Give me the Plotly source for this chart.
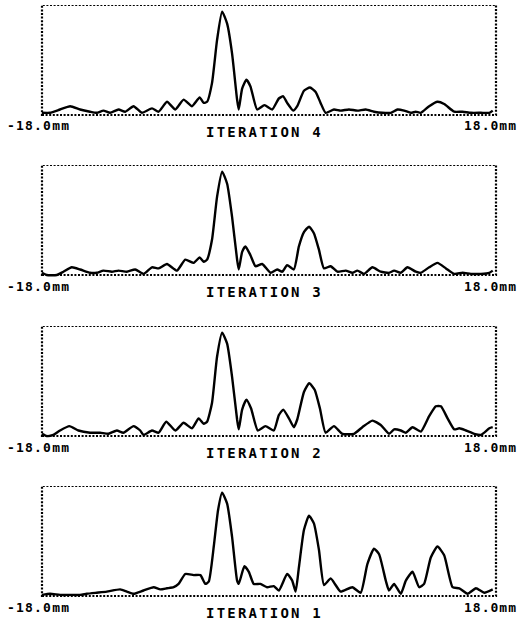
import plotly.graph_objects as go

# ---- data (x in mm, normalized amplitude) ----
titles = ["ITERATION 4", "ITERATION 3", "ITERATION 2", "ITERATION 1"]
left_label = "-18.0mm"
right_label = "18.0mm"

x_it4 = [-18.0, -17.36, -16.57, -15.77, -14.98, -14.19, -13.66, -13.13, -12.60, -11.93,
         -11.40, -10.74, -10.08, -9.28, -8.75, -8.09, -7.43, -6.77, -6.11, -5.50,
         -5.18, -4.91, -4.52, -4.12, -3.72, -3.32, -2.93, -2.53, -2.40, -2.13,
         -1.79, -1.47, -0.94, -0.36, 0.25, 0.78, 1.13, 1.44, 1.92, 2.24,
         2.77, 3.25, 3.70, 4.09, 4.49, 5.15, 5.68, 6.34, 7.01, 7.67,
         8.33, 8.99, 9.66, 10.19, 10.72, 11.25, 11.64, 12.04, 12.70, 13.36,
         13.89, 14.69, 15.35, 16.01, 16.81, 17.47, 17.74]
y_it4 = [0.02, 0.02, 0.05, 0.08, 0.05, 0.03, 0.02, 0.04, 0.02, 0.05,
         0.03, 0.08, 0.02, 0.06, 0.03, 0.12, 0.05, 0.14, 0.08, 0.16,
         0.11, 0.12, 0.29, 0.68, 0.94, 0.83, 0.56, 0.14, 0.05, 0.24,
         0.32, 0.26, 0.05, 0.09, 0.05, 0.15, 0.17, 0.11, 0.04, 0.08,
         0.22, 0.25, 0.21, 0.11, 0.02, 0.05, 0.04, 0.05, 0.04, 0.05,
         0.03, 0.02, 0.02, 0.05, 0.04, 0.02, 0.03, 0.02, 0.08, 0.12,
         0.10, 0.03, 0.03, 0.02, 0.02, 0.02, 0.04]

x_it3 = [-18.0, -17.63, -16.83, -16.30, -15.64, -14.98, -14.19, -13.66, -13.13, -12.46,
         -11.93, -11.27, -10.61, -9.95, -9.28, -8.75, -8.09, -7.30, -6.64, -5.97,
         -5.50, -5.18, -4.91, -4.52, -4.12, -3.72, -3.32, -2.93, -2.53, -2.40,
         -2.13, -1.87, -1.47, -1.07, -0.54, 0.12, 0.65, 1.05, 1.44, 1.97,
         2.37, 2.77, 3.17, 3.56, 3.96, 4.36, 4.89, 5.42, 6.08, 6.61,
         7.01, 7.54, 8.20, 8.86, 9.52, 9.92, 10.45, 10.98, 11.64, 12.04,
         12.70, 13.36, 14.03, 14.69, 15.35, 16.01, 16.81, 17.47, 17.74]
y_it3 = [0.02, 0.00, 0.00, 0.03, 0.07, 0.05, 0.02, 0.02, 0.04, 0.03,
         0.04, 0.03, 0.05, 0.01, 0.07, 0.06, 0.10, 0.04, 0.14, 0.11,
         0.16, 0.12, 0.14, 0.32, 0.71, 0.94, 0.83, 0.53, 0.14, 0.05,
         0.21, 0.26, 0.18, 0.08, 0.10, 0.02, 0.05, 0.03, 0.09, 0.05,
         0.26, 0.39, 0.44, 0.38, 0.23, 0.06, 0.08, 0.03, 0.04, 0.02,
         0.04, 0.01, 0.07, 0.03, 0.02, 0.04, 0.02, 0.07, 0.03, 0.02,
         0.07, 0.11, 0.06, 0.01, 0.02, 0.01, 0.01, 0.02, 0.04]

x_it2 = [-18.0, -17.63, -17.10, -16.57, -15.83, -15.11, -14.19, -13.39, -12.73, -12.07,
         -11.54, -10.74, -10.21, -9.95, -9.28, -8.75, -8.15, -7.43, -6.77, -6.11,
         -5.58, -5.18, -4.91, -4.52, -4.12, -3.72, -3.32, -2.93, -2.53, -2.40,
         -2.13, -1.79, -1.42, -0.89, -0.28, 0.38, 0.78, 1.13, 1.58, 1.97,
         2.24, 2.77, 3.19, 3.62, 4.04, 4.49, 5.15, 5.81, 6.74, 7.40,
         8.20, 8.86, 9.52, 9.92, 10.45, 10.85, 11.38, 12.04, 12.70, 13.23,
         13.63, 14.16, 14.69, 15.09, 15.62, 16.28, 16.81, 17.47, 17.74]
y_it2 = [0.02, 0.00, 0.01, 0.05, 0.09, 0.05, 0.03, 0.03, 0.02, 0.05,
         0.03, 0.09, 0.05, 0.01, 0.05, 0.03, 0.13, 0.05, 0.12, 0.07,
         0.16, 0.11, 0.13, 0.30, 0.72, 0.94, 0.84, 0.54, 0.15, 0.06,
         0.24, 0.33, 0.25, 0.05, 0.09, 0.05, 0.19, 0.24, 0.16, 0.08,
         0.15, 0.40, 0.48, 0.42, 0.25, 0.03, 0.09, 0.02, 0.02, 0.08,
         0.14, 0.10, 0.02, 0.06, 0.05, 0.03, 0.08, 0.04, 0.18, 0.27,
         0.27, 0.16, 0.06, 0.07, 0.05, 0.02, 0.01, 0.07, 0.08]

x_it1 = [-18.0, -17.36, -16.57, -15.77, -14.98, -14.45, -13.66, -12.86, -11.80, -11.27,
         -10.74, -9.95, -9.15, -8.62, -8.09, -7.56, -7.17, -6.64, -5.97, -5.44,
         -5.05, -4.78, -4.38, -4.04, -3.72, -3.32, -2.93, -2.53, -2.40, -1.95,
         -1.60, -1.21, -0.68, -0.15, 0.38, 0.78, 1.44, 1.84, 2.11, 2.37,
         2.77, 3.17, 3.56, 3.96, 4.36, 4.89, 5.28, 5.68, 6.61, 7.27,
         7.80, 8.33, 8.73, 9.26, 9.52, 9.92, 10.45, 10.85, 11.38, 11.91,
         12.30, 12.83, 13.36, 13.89, 14.56, 15.09, 15.75, 16.41, 17.07, 17.74]
y_it1 = [0.01, 0.02, 0.01, 0.01, 0.01, 0.02, 0.03, 0.04, 0.06, 0.04,
         0.02, 0.05, 0.08, 0.06, 0.07, 0.08, 0.11, 0.20, 0.19, 0.19,
         0.11, 0.13, 0.45, 0.78, 0.94, 0.84, 0.54, 0.14, 0.11, 0.27,
         0.22, 0.11, 0.11, 0.08, 0.09, 0.05, 0.20, 0.14, 0.04, 0.26,
         0.60, 0.73, 0.66, 0.42, 0.10, 0.16, 0.10, 0.04, 0.08, 0.03,
         0.29, 0.43, 0.38, 0.14, 0.05, 0.11, 0.02, 0.14, 0.22, 0.08,
         0.11, 0.35, 0.45, 0.37, 0.08, 0.07, 0.02, 0.07, 0.03, 0.06]

series = [(x_it4, y_it4), (x_it3, y_it3), (x_it2, y_it2), (x_it1, y_it1)]

# ---- layout geometry (pixels) ----
W, H = 519, 624
BOX_L, BOX_R = 42, 496
BOX_TOPS = [5, 165, 326, 486]
BOX_H = 110
X_MIN, X_MAX = -18.0, 18.0
XPAD = 0.3
YLO, YHI = -0.05, 1.0

px_per_mm = (BOX_R - BOX_L) / (X_MAX - X_MIN)
dom_x0 = (BOX_L - XPAD * px_per_mm) / W
dom_x1 = (BOX_R + XPAD * px_per_mm) / W

fig = go.Figure()
mono = "DejaVu Sans Mono"

for i, (xs, ys) in enumerate(series):
    n = i + 1
    xa = "x" if n == 1 else f"x{n}"
    ya = "y" if n == 1 else f"y{n}"
    top = BOX_TOPS[i]
    bot = top + BOX_H
    dom_bot_px = bot + (-YLO) * BOX_H
    fig.add_trace(go.Scatter(x=xs, y=ys, mode="lines", xaxis=xa, yaxis=ya,
                             line=dict(color="black", width=2.4, shape="spline", smoothing=0.5),
                             showlegend=False, hoverinfo="skip"))
    fig.layout[f"xaxis{'' if n == 1 else n}"] = dict(
        domain=[dom_x0, dom_x1], range=[X_MIN - XPAD, X_MAX + XPAD], visible=False,
        anchor=ya, fixedrange=True)
    fig.layout[f"yaxis{'' if n == 1 else n}"] = dict(
        domain=[(H - dom_bot_px) / H, (H - top) / H], range=[YLO, YHI], visible=False,
        anchor=xa, fixedrange=True)
    fig.add_shape(type="rect", xref=xa, yref=ya, x0=X_MIN, x1=X_MAX, y0=0, y1=1,
                  line=dict(color="black", width=2.2, dash="2px,1.6px"), layer="below")
    lab_y = (H - (bot + 11)) / H
    tit_y = (H - (bot + 17)) / H
    fig.add_annotation(xref="paper", yref="paper", x=5 / W, y=lab_y, xanchor="left",
                       yanchor="middle", showarrow=False,
                       text=f'<span style="letter-spacing:1.2px">{left_label}</span>',
                       font=dict(family=mono, size=13, color="black", weight="bold"))
    fig.add_annotation(xref="paper", yref="paper", x=462 / W, y=lab_y, xanchor="left",
                       yanchor="middle", showarrow=False,
                       text=f'<span style="letter-spacing:1.0px">{right_label}</span>',
                       font=dict(family=mono, size=13, color="black", weight="bold"))
    fig.add_annotation(xref="paper", yref="paper", x=204 / W, y=tit_y, xanchor="left",
                       yanchor="middle", showarrow=False,
                       text=f'<span style="letter-spacing:2.2px">{titles[i]}</span>',
                       font=dict(family=mono, size=14, color="black", weight="bold"))

fig.update_layout(width=W, height=H, margin=dict(l=0, r=0, t=0, b=0),
                  paper_bgcolor="white", plot_bgcolor="rgba(0,0,0,0)")

fig.write_html("out.html", config={"displayModeBar": False},
               post_script="document.body.style.margin='0';document.body.style.overflow='hidden';")
